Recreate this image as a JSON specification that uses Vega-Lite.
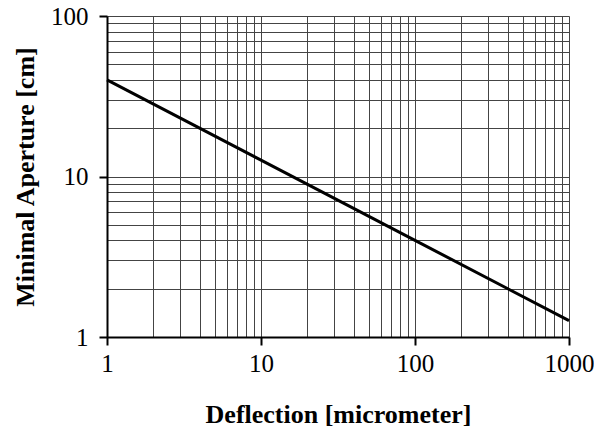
{
  "$schema": "https://vega.github.io/schema/vega-lite/v6.json",
  "autosize": {"type": "none"},
  "padding": {"left": 107, "top": 16, "right": 25, "bottom": 97},
  "width": 462,
  "height": 321,
  "background": "white",
  "config": {
    "view": {"stroke": null},
    "font": "Liberation Serif",
    "axis": {
      "domainColor": "black",
      "domainWidth": 2,
      "gridColor": "#444",
      "gridWidth": 1,
      "gridOpacity": 1,
      "tickColor": "black",
      "tickWidth": 2,
      "tickSize": 8,
      "labelFont": "Liberation Serif",
      "labelFontSize": 25,
      "labelColor": "black",
      "titleFont": "Liberation Serif",
      "titleFontSize": 26,
      "titleFontWeight": "bold",
      "titleColor": "black"
    }
  },
  "data": {
    "values": [
      {"deflection": 1, "aperture": 40},
      {"deflection": 10, "aperture": 12.65},
      {"deflection": 100, "aperture": 4},
      {"deflection": 1000, "aperture": 1.265}
    ]
  },
  "mark": {"type": "line", "color": "black", "strokeWidth": 3},
  "encoding": {
    "x": {
      "field": "deflection",
      "type": "quantitative",
      "scale": {"type": "log", "domain": [1, 1000], "nice": false},
      "axis": {
        "title": "Deflection [micrometer]",
        "values": [1,2,3,4,5,6,7,8,9,10,20,30,40,50,60,70,80,90,100,200,300,400,500,600,700,800,900,1000],
        "labelExpr": "indexof([1,10,100,1000], datum.value) >= 0 ? format(datum.value, 'd') : ''",
        "tickOpacity": {"condition": {"test": "indexof([1,10,100,1000], datum.value) >= 0", "value": 1}, "value": 0},
        "labelPadding": 6,
        "labelFlush": false,
        "labelOverlap": false,
        "titleY": 77,
        "titleBaseline": "middle"
      }
    },
    "y": {
      "field": "aperture",
      "type": "quantitative",
      "scale": {"type": "log", "domain": [1, 100], "nice": false},
      "axis": {
        "title": "Minimal Aperture [cm]",
        "values": [1,2,3,4,5,6,7,8,9,10,20,30,40,50,60,70,80,90,100],
        "labelExpr": "indexof([1,10,100], datum.value) >= 0 ? format(datum.value, 'd') : ''",
        "tickOpacity": {"condition": {"test": "indexof([1,10,100], datum.value) >= 0", "value": 1}, "value": 0},
        "labelPadding": 11,
        "labelFlush": false,
        "labelOverlap": false,
        "titleX": -82,
        "titleBaseline": "middle"
      }
    }
  }
}
